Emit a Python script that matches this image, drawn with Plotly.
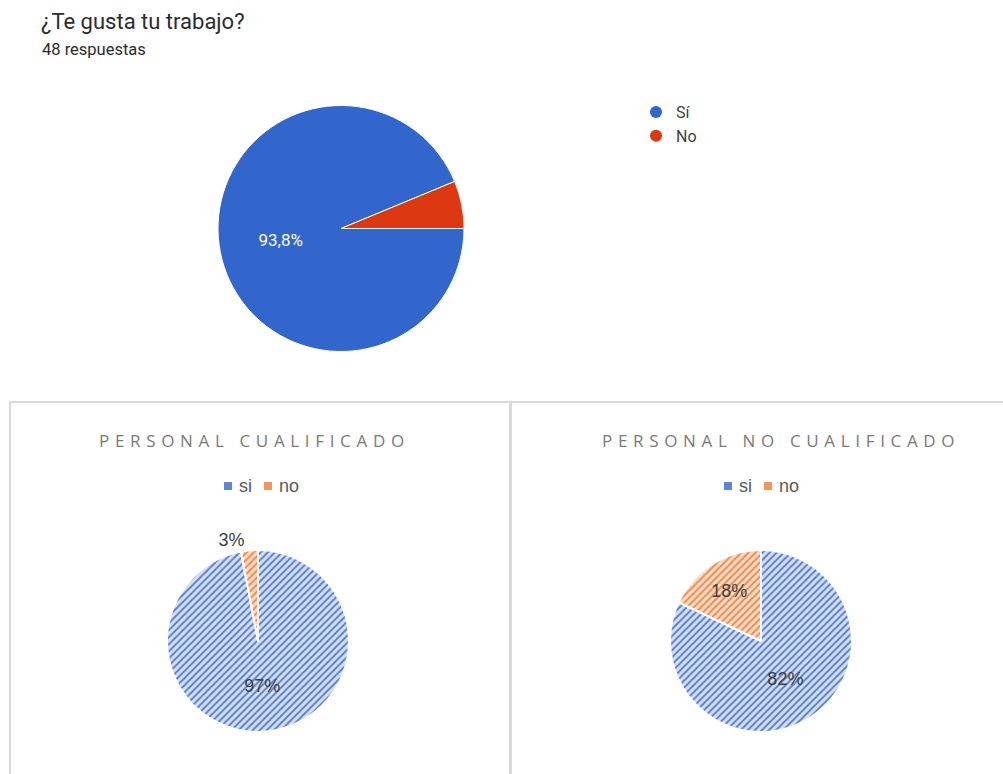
import plotly.graph_objects as go

W, H = 1003, 774

# Survey question (top chart)
q_title = "¿Te gusta tu trabajo?"
q_subtitle = "48 respuestas"
q_labels = ["Sí", "No"]
q_counts = [45, 3]
q_colors = ["#3366cc", "#dc3912"]

# Breakdown by staff group (bottom charts)
grp_labels = ["si", "no"]
cual_title = "PERSONAL CUALIFICADO"
cual_values = [97, 3]
nocual_title = "PERSONAL NO CUALIFICADO"
nocual_values = [82, 18]
grp_fg = ["#5680d2", "#f08a4b"]
grp_bg = ["#d6dff4", "#fbdcc8"]
grp_key = ["#5f86d6", "#f2965c"]


def px_x(x):
    return x / W


def px_y(y):
    return 1 - y / H


def spaced(text, gap="\u2004"):
    return gap.join(text)


fig = go.Figure()

# Top pie: first slice starts at 3 o'clock, clockwise
fig.add_trace(go.Pie(
    labels=q_labels, values=q_counts, sort=False,
    direction="clockwise", rotation=90,
    domain=dict(x=[px_x(218), px_x(464)], y=[px_y(352), px_y(105)]),
    marker=dict(colors=q_colors, line=dict(color="white", width=1)),
    texttemplate=["%{percent:.1%}", ""],
    textposition="inside", insidetextorientation="horizontal",
    textfont=dict(family="Roboto", size=17, color="white"),
    showlegend=False, hoverinfo="label+value+percent",
))

# Legend entries for the top pie (round markers)
for lab, col in zip(q_labels, q_colors):
    fig.add_trace(go.Scatter(
        x=[None], y=[None], mode="markers", name=lab,
        marker=dict(symbol="circle", size=15, color=col),
        legend="legend",
    ))


def group_pie(values, title, cx, positions):
    return go.Pie(
        labels=grp_labels, values=values, sort=False,
        direction="clockwise", rotation=0,
        domain=dict(x=[px_x(cx - 91), px_x(cx + 91)], y=[px_y(732), px_y(550)]),
        marker=dict(
            colors=grp_bg,
            line=dict(color="white", width=2),
            pattern=dict(shape="/", fgcolor=grp_fg, bgcolor=grp_bg,
                         size=5, solidity=0.4),
        ),
        texttemplate="%{percent:.0%}",
        textposition=positions, insidetextorientation="horizontal",
        textfont=dict(family="Liberation Sans", size=18, color="#404040"),
        showlegend=False, name=title, hoverinfo="label+percent",
    )


fig.add_trace(group_pie(cual_values, cual_title, 258, ["inside", "outside"]))
fig.add_trace(group_pie(nocual_values, nocual_title, 761, ["inside", "inside"]))

# Panel frames for the two bottom charts
frame = dict(type="rect", xref="paper", yref="paper",
             line=dict(color="#d9d9d9", width=2), fillcolor="rgba(0,0,0,0)", layer="below")
fig.add_shape(**frame, x0=px_x(10), x1=px_x(510), y0=px_y(800), y1=px_y(402))
fig.add_shape(**frame, x0=px_x(511), x1=px_x(1020), y0=px_y(800), y1=px_y(402))

annos = [
    dict(text=q_title, x=px_x(39), y=px_y(22), xanchor="left", yanchor="middle",
         font=dict(family="Roboto", size=22, color="#2b2c30")),
    dict(text=q_subtitle, x=px_x(40), y=px_y(50), xanchor="left", yanchor="middle",
         font=dict(family="Roboto", size=16.5, color="#2b2c30")),
    dict(text=spaced(cual_title), x=px_x(251), y=px_y(440), xanchor="center", yanchor="middle",
         font=dict(family="Open Sans", size=17, color="#7a7a7a")),
    dict(text=spaced(nocual_title), x=px_x(778), y=px_y(440), xanchor="center", yanchor="middle",
         font=dict(family="Open Sans", size=17, color="#7a7a7a")),
]
for a in annos:
    fig.add_annotation(xref="paper", yref="paper", showarrow=False, **a)

# Horizontal keys above each bottom pie
for cx in (262, 762):
    keys_x = [cx - 34, cx + 6]
    for lab, col, kx in zip(grp_labels, grp_key, keys_x):
        fig.add_shape(type="rect", xref="paper", yref="paper",
                      x0=px_x(kx - 4), x1=px_x(kx + 4), y0=px_y(490), y1=px_y(482),
                      fillcolor=col, line=dict(width=0))
        fig.add_annotation(xref="paper", yref="paper", showarrow=False,
                           text=lab, x=px_x(kx + 9), y=px_y(486),
                           xanchor="left", yanchor="middle",
                           font=dict(family="Liberation Sans", size=18, color="#595959"))

fig.update_layout(
    width=W, height=H,
    margin=dict(l=0, r=0, t=0, b=0),
    paper_bgcolor="white", plot_bgcolor="white",
    separators=",.",
    xaxis=dict(visible=False), yaxis=dict(visible=False),
    legend=dict(x=px_x(636), y=px_y(95), xanchor="left", yanchor="top",
                font=dict(family="Roboto", size=16, color="#3c4043"),
                itemsizing="constant", tracegroupgap=0, bgcolor="rgba(0,0,0,0)"),
)

fig.write_html("out.html")
